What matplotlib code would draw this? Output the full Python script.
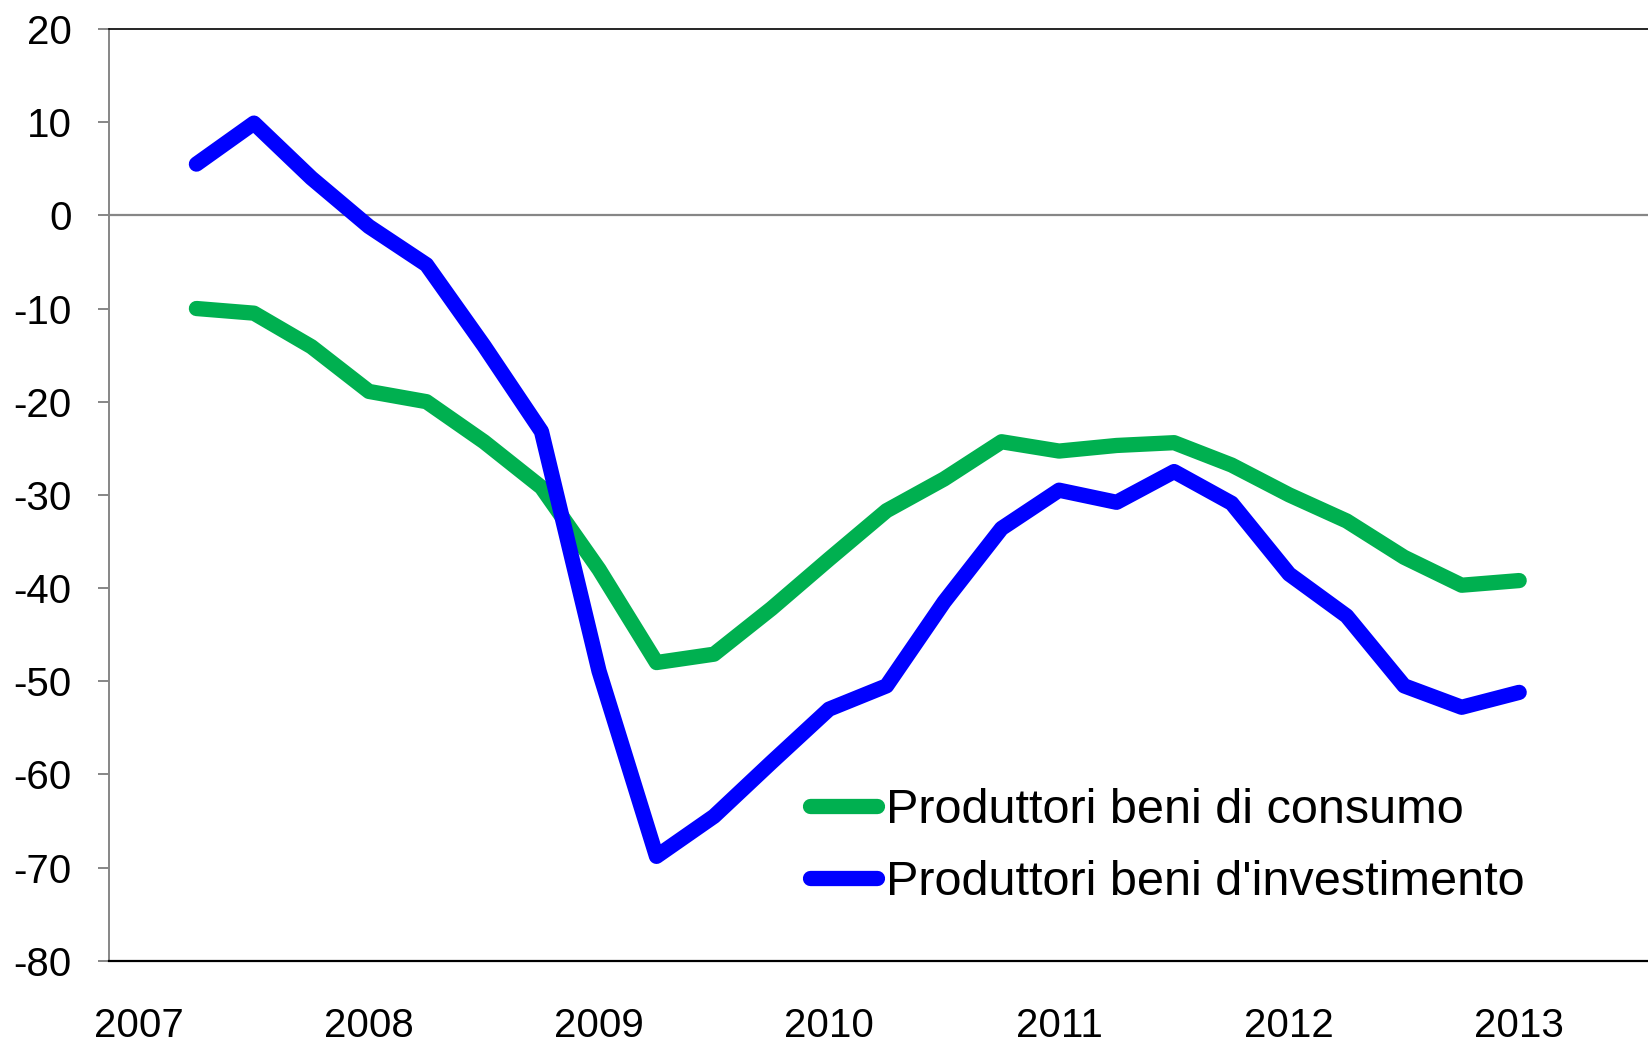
import matplotlib
matplotlib.use("Agg")
import matplotlib.pyplot as plt
import numpy as np

# quarterly survey balances, Q2 2007 -> Q1 2013
quarters = np.arange(1, 25)
consumo = [-10.0, -10.5, -14.1, -18.9, -20.0, -24.3, -29.2, -38.0,
           -48.0, -47.1, -42.2, -36.9, -31.7, -28.3, -24.3, -25.3,
           -24.7, -24.4, -26.8, -30.0, -32.8, -36.7, -39.7, -39.2]
investimento = [5.5, 9.9, 4.0, -1.2, -5.3, -14.0, -23.2, -48.9,
                -68.8, -64.5, -58.7, -53.0, -50.5, -41.5, -33.6, -29.5,
                -30.8, -27.5, -30.9, -38.5, -43.0, -50.5, -52.8, -51.2]
years = [2007, 2008, 2009, 2010, 2011, 2012, 2013]
labels = ["Produttori beni di consumo", "Produttori beni d'investimento"]

plt.rcParams['font.family'] = ['Liberation Sans', 'DejaVu Sans']
plt.rcParams['axes.unicode_minus'] = False

W, H = 1648, 1042
fig = plt.figure(figsize=(W / 100, H / 100), dpi=100)
ax = fig.add_axes([109 / W, 1 - 960.7 / H, (W - 109) / W, (960.7 - 29) / H])

ax.axhline(0, color="#868686", lw=1.6, zorder=1)

ax.plot(quarters, consumo, color="#00B050", lw=11, label=labels[0],
        solid_capstyle="round", solid_joinstyle="round", zorder=3)
ax.plot(quarters, investimento, color="#0000FF", lw=11, label=labels[1],
        solid_capstyle="round", solid_joinstyle="round", zorder=3)

ax.set_ylim(-80, 20)
ax.set_yticks(range(-80, 21, 10))
ax.set_xlim(-0.52, 26.24)
ax.set_xticks([4 * (y - 2007) for y in years])
ax.set_xticklabels([str(y) for y in years])

ax.tick_params(axis="y", labelsize=29, length=8, width=1.4, color="#868686", pad=19)
ax.tick_params(axis="x", labelsize=29, length=0, pad=33)

ax.spines["right"].set_visible(False)
ax.spines["top"].set_color("black")
ax.spines["top"].set_linewidth(1.2)
ax.spines["bottom"].set_color("black")
ax.spines["bottom"].set_linewidth(1.6)
ax.spines["left"].set_color("#868686")
ax.spines["left"].set_linewidth(1.4)

ax.legend(loc="center left", bbox_to_anchor=(809.5 / W, 1 - 846.5 / H),
          bbox_transform=fig.transFigure, frameon=False, fontsize=35,
          handlelength=1.38, handletextpad=0.2, labelspacing=0.55,
          borderpad=0, borderaxespad=0)

fig.savefig("out.png", dpi=100)
